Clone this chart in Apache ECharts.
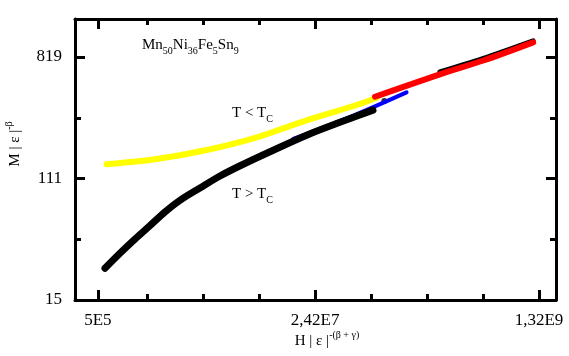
<!DOCTYPE html>
<html>
<head>
<meta charset="utf-8">
<script src="https://cdn.jsdelivr.net/npm/echarts@6/dist/echarts.min.js"></script>
<style>html,body{margin:0;padding:0;background:#fff}#c{width:569px;height:356px}</style>
</head>
<body>
<div id="c"></div>
<script>
// ---- data (H = H|e|^-(b+g), M = M|e|^-b) ----
const yellowH = [5.84e5, 1.43e6, 3.49e6, 8.52e6, 2.08e7, 5.09e7, 7.27e7];
const yellowM = [140.0, 152.8, 177.2, 218.4, 289, 371.7, 419];

const blackLowH = [5.67e5, 7.41e5, 9.69e5, 1.267e6, 1.656e6, 2.165e6, 3.094e6, 4.426e6, 6.517e6, 1.081e7, 2.083e7, 3.776e7, 6.807e7];
const blackLowM = [25.3, 32.4, 40.9, 51.0, 63.9, 77.4, 94.8, 115.5, 138.4, 172.3, 226.1, 279.6, 341.7];

const blackDotH = [8.33e7];
const blackDotM = [397];

const blackHighH = [2.25e8, 4.89e8, 1.19e9];
const blackHighM = [640, 800, 1068];

const blueH = [1.64e7, 4.51e7, 1.24e8];
const blueM = [213, 305, 458];

const redH = [7.06e7, 2.25e8, 4.89e8, 1.19e9];
const redM = [426, 616, 773, 1043];

// ---- axes ----
const H_RANGE = [3.32e5, 1.79e9];
const M_RANGE = [15, 1531];
const xMajorTicks = [5e5, 2.42e7, 1.32e9];
const xTickLabels = ['5E5', '2,42E7', '1,32E9'];
const xMinorTicks = [1.2026e6, 3.269e6, 8.886e6, 6.566e7, 1.785e8, 4.852e8];
const yMajorTicks = [15, 111, 819];
const yTickLabels = ['15', '111', '819'];
const yMinorTicks = [40.77, 301.3];

const L = Math.log;
const pts = (hs, ms) => hs.map((h, i) => [L(h), L(ms[i])]);
const FONT = 'Liberation Serif';

function labelFor(vals, labels) {
  return function (v) {
    for (let i = 0; i < vals.length; i++) if (Math.abs(L(vals[i]) - v) < 1e-6) return labels[i];
    return '';
  };
}

function xAx(pos, ticks, len, withLine, withLabel) {
  return {
    type: 'value', position: pos, min: L(H_RANGE[0]), max: L(H_RANGE[1]),
    splitLine: { show: false },
    axisLine: { show: withLine, lineStyle: { color: '#000', width: 3 } },
    axisTick: { show: true, inside: true, length: len, lineStyle: { color: '#000', width: 3 }, customValues: ticks.map(L) },
    axisLabel: withLabel ? { show: true, customValues: xMajorTicks.map(L), formatter: labelFor(xMajorTicks, xTickLabels),
      color: '#000', fontFamily: FONT, fontSize: 17, margin: 12 } : { show: false }
  };
}
function yAx(pos, ticks, len, withLine, withLabel) {
  return {
    type: 'value', position: pos, min: L(M_RANGE[0]), max: L(M_RANGE[1]),
    splitLine: { show: false },
    axisLine: { show: withLine, lineStyle: { color: '#000', width: 3 } },
    axisTick: { show: true, inside: true, length: len, lineStyle: { color: '#000', width: 3 }, customValues: ticks.map(L) },
    axisLabel: withLabel ? { show: true, customValues: yMajorTicks.map(L), formatter: labelFor(yMajorTicks, yTickLabels),
      color: '#000', fontFamily: FONT, fontSize: 17, margin: 13 } : { show: false }
  };
}

function line(hs, ms, color, width) {
  return {
    type: 'line', data: pts(hs, ms), smooth: 0.3, showSymbol: false, symbol: 'none',
    xAxisIndex: 0, yAxisIndex: 0, animation: false,
    lineStyle: { color: color, width: width, cap: 'round', join: 'round' }
  };
}

const chart = echarts.init(document.getElementById('c'), null, { renderer: 'canvas' });
chart.setOption({
  animation: false,
  backgroundColor: '#fff',
  grid: { left: 75, right: 13, top: 19, bottom: 56, containLabel: false },
  xAxis: [
    xAx('bottom', xMajorTicks, 10, true, true),
    xAx('bottom', xMinorTicks, 6, false, false),
    xAx('top', xMajorTicks, 10, true, false),
    xAx('top', xMinorTicks, 6, false, false)
  ],
  yAxis: [
    yAx('left', yMajorTicks, 10, true, true),
    yAx('left', yMinorTicks, 6, false, false),
    yAx('right', yMajorTicks, 10, true, false),
    yAx('right', yMinorTicks, 6, false, false)
  ],
  series: [
    line(yellowH, yellowM, '#ffff00', 6),
    line(blueH, blueM, '#0000ff', 4),
    line(blackLowH, blackLowM, '#000000', 7),
    { type: 'scatter', data: pts(blackDotH, blackDotM), symbol: 'circle', symbolSize: 6,
      itemStyle: { color: '#000' }, xAxisIndex: 0, yAxisIndex: 0, animation: false },
    line(blackHighH, blackHighM, '#000000', 5),
    line(redH, redM, '#ff0000', 6)
  ],
  graphic: [
    { type: 'text', x: 142, y: 45, style: {
        text: '{n|Mn}{s|50}{n|Ni}{s|36}{n|Fe}{s|5}{n|Sn}{s|9}', fill: '#000', verticalAlign: 'middle',
        rich: { n: { fontFamily: FONT, fontSize: 15, lineHeight: 16, verticalAlign: 'bottom' },
                s: { fontFamily: FONT, fontSize: 10, lineHeight: 10, verticalAlign: 'bottom', padding: [0, 0, -3, 0] } } } },
    { type: 'text', x: 232, y: 113, style: {
        text: '{n|T < T}{s|C}', fill: '#000', verticalAlign: 'middle',
        rich: { n: { fontFamily: FONT, fontSize: 15, lineHeight: 16, verticalAlign: 'bottom' },
                s: { fontFamily: FONT, fontSize: 10, lineHeight: 10, verticalAlign: 'bottom', padding: [0, 0, -3, 0] } } } },
    { type: 'text', x: 232, y: 194, style: {
        text: '{n|T > T}{s|C}', fill: '#000', verticalAlign: 'middle',
        rich: { n: { fontFamily: FONT, fontSize: 15, lineHeight: 16, verticalAlign: 'bottom' },
                s: { fontFamily: FONT, fontSize: 10, lineHeight: 10, verticalAlign: 'bottom', padding: [0, 0, -3, 0] } } } },
    { type: 'text', x: 327, y: 341, style: {
        text: '{n|H | ε |}{s|-(β + γ)}', fill: '#000', align: 'center', verticalAlign: 'middle',
        rich: { n: { fontFamily: FONT, fontSize: 15, lineHeight: 16, verticalAlign: 'bottom' },
                s: { fontFamily: FONT, fontSize: 10, lineHeight: 10, verticalAlign: 'top', padding: [-3, 0, 0, 0] } } } },
    { type: 'text', x: 15, y: 144, rotation: Math.PI / 2, style: {
        text: '{n|M | ε |}{s|-β}', fill: '#000', align: 'center', verticalAlign: 'middle',
        rich: { n: { fontFamily: FONT, fontSize: 15, lineHeight: 16, verticalAlign: 'bottom' },
                s: { fontFamily: FONT, fontSize: 10, lineHeight: 10, verticalAlign: 'top', padding: [-3, 0, 0, 0] } } } }
  ]
});
</script>
</body>
</html>
